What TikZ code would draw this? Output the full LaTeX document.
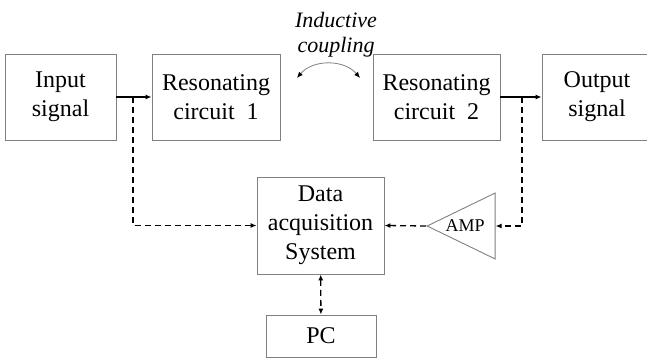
\documentclass[tikz,border=0pt]{standalone}
\usepackage{fontspec}
\setmainfont{Liberation Serif}
\usetikzlibrary{shapes.geometric,arrows.meta}
\tikzset{
  blockbox/.style={draw=gray,line width=0.9pt,align=center,inner sep=0pt,
    font=\fontsize{24}{29}\selectfont},
  sigline/.style={line width=1.8pt,-{Latex[length=6pt,width=5pt]}},
  daqline/.style={line width=1.3pt,dash pattern=on 6pt off 4pt},
  daqtip/.style={-{Latex[length=6pt,width=5pt]}}
}
\begin{document}
\begin{tikzpicture}[x=1pt,y=1pt]
  \useasboundingbox (0,0) rectangle (647,358);
  \clip (0,0) rectangle (647,358);
  % signal chain
  \node[blockbox,minimum width=111pt,minimum height=86pt] (inp) at (60.5,261) {Input\\signal};
  \node[blockbox,minimum width=128pt,minimum height=86pt] (rcone) at (216,261) {Resonating\\circuit\ \ 1};
  \node[blockbox,minimum width=127pt,minimum height=86pt] (rctwo) at (436.5,261) {Resonating\\circuit\ \ 2};
  \node[blockbox,minimum width=110pt,minimum height=86pt] (out) at (597,261) {Output\\signal};
  % acquisition part
  \node[blockbox,minimum width=127pt,minimum height=97pt] (daq) at (320.5,132.5) {Data\\acquisition\\System};
  \node[blockbox,minimum width=110pt,minimum height=42pt] (pc) at (321,22) {PC};
  \node[draw=gray,line width=0.9pt,isosceles triangle,isosceles triangle stretches,
    shape border rotate=180,minimum width=66pt,minimum height=68pt,inner sep=0pt,
    anchor=apex,font=\fontsize{18}{20}\selectfont] (amp) at (426,132) {AMP\hspace*{8pt}};
  % coupling
  \node[font=\fontsize{22}{25}\itshape\selectfont,align=center] (coup) at (336,323) {Inductive\\coupling};
  \coordinate (cl) at (297,280);
  \coordinate (cr) at (360,280);
  \draw[gray,line width=0.8pt,{Latex[length=6pt,width=5pt,black]}-{Latex[length=6pt,width=5pt,black]}]
    (cl) to[bend left=50] (cr);
  % connectors
  \coordinate (jin) at (133,261);
  \coordinate (jout) at (522,261);
  \draw[sigline] (inp) -- (rcone);
  \draw[sigline] (rctwo) -- (out);
  \draw[daqline,daqtip] (jin) |- (daq.west);
  \draw[daqline,daqtip] (jout) |- (amp.east);
  \draw[daqline,daqtip] (amp.apex) -- (daq.east);
  \draw[daqline,{Latex[length=6pt,width=5pt]}-{Latex[length=6pt,width=5pt]}] (daq) -- (pc);
\end{tikzpicture}
\end{document}
